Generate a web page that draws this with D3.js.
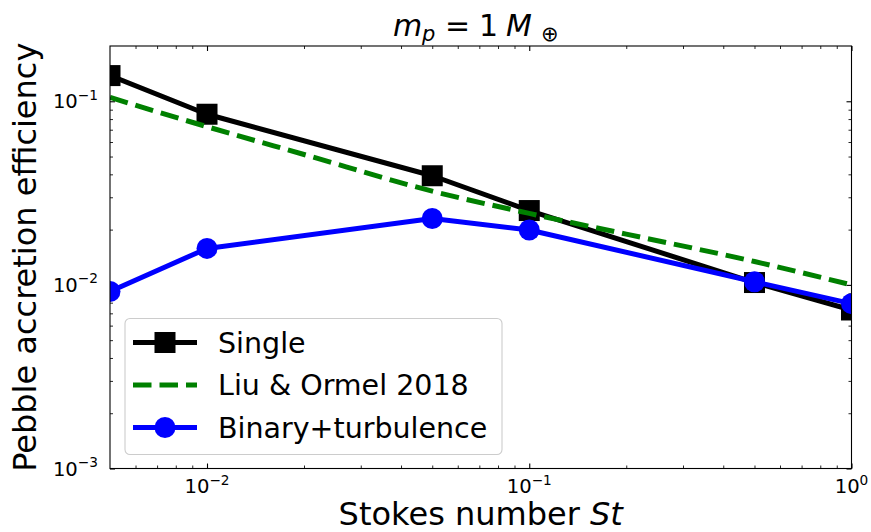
<!DOCTYPE html>
<html>
<head>
<meta charset="utf-8">
<script src="https://cdn.jsdelivr.net/npm/d3@7"></script>
<style>
  body { margin: 0; background: #fff; }
  svg { display: block; }
  text { font-family: "DejaVu Sans", sans-serif; fill: #000; }
</style>
</head>
<body>
<svg id="chart" width="871" height="532"></svg>
<script>
// Stokes numbers sampled by the simulations
const stokes = [0.005, 0.01, 0.05, 0.1, 0.5, 1];
// Pebble accretion efficiency, single planet
const singleEff = [0.138, 0.085, 0.0393, 0.0254, 0.0103, 0.0073];
// Pebble accretion efficiency, binary + turbulence
const binaryEff = [0.0092, 0.0158, 0.0230, 0.0199, 0.0104, 0.0079];
// Liu & Ormel (2018) prescription
const liuStokes = [0.005, 0.01, 0.02, 0.05, 0.1, 0.2, 0.5, 1];
const liuEff = [0.105, 0.0727, 0.0513, 0.0324, 0.0245, 0.0189, 0.0134, 0.0100];
// Labelled decades
const xMajorTicks = [0.01, 0.1, 1];
const yMajorTicks = [0.001, 0.01, 0.1];
const seriesNames = ["Single", "Liu & Ormel 2018", "Binary+turbulence"];

const svg = d3.select("#chart");
const plot = { left: 110, right: 851.5, top: 46, bottom: 468.5 };

const x = d3.scaleLog().domain([0.005, 1]).range([plot.left, plot.right]);
const y = d3.scaleLog().domain([0.001, 0.2]).range([plot.bottom, plot.top]);

const isMajor = v => Math.abs(Math.log10(v) - Math.round(Math.log10(v))) < 1e-9;
const inside = (s, v) => {
  const [a, b] = s.domain();
  return v > a * 1.0001 && v < b * 0.9999;
};
const xMinor = x.ticks().filter(v => !isMajor(v) && inside(x, v));
const yMinor = y.ticks().filter(v => !isMajor(v) && inside(y, v));

// inward ticks on all four sides
function tickAxis(axisFn, scale, values, size, width, transform) {
  const g = svg.append("g")
    .attr("transform", transform)
    .call(axisFn(scale).tickValues(values).tickSize(-size).tickSizeOuter(0).tickFormat(""));
  g.select(".domain").remove();
  g.selectAll(".tick line").attr("stroke", "#000").attr("stroke-width", width);
  return g;
}
const H = plot.bottom - plot.top, W = plot.right - plot.left;
[
  [d3.axisBottom, x, `translate(0,${plot.bottom})`],
  [d3.axisTop, x, `translate(0,${plot.top})`]
].forEach(([fn, s, t]) => {
  tickAxis(fn, s, xMajorTicks, 5, 1.1, t);
  tickAxis(fn, s, xMinor, 3, 0.85, t);
});
[
  [d3.axisLeft, y, `translate(${plot.left},0)`],
  [d3.axisRight, y, `translate(${plot.right},0)`]
].forEach(([fn, s, t]) => {
  tickAxis(fn, s, yMajorTicks, 5, 1.1, t);
  tickAxis(fn, s, yMinor, 3, 0.85, t);
});

// power-of-ten labels
function powerLabel(sel, v) {
  const e = Math.round(Math.log10(v));
  sel.append("tspan").attr("font-size", 19.6).text("10");
  sel.append("tspan").attr("font-size", 13.7).attr("dy", -8.5)
    .text(String(e).replace("-", "\u2212"));
}
svg.append("g").selectAll("text").data(xMajorTicks).join("text")
  .attr("x", d => x(d)).attr("y", plot.bottom + 24.5)
  .attr("text-anchor", "middle")
  .each(function (d) { powerLabel(d3.select(this), d); });
svg.append("g").selectAll("text").data(yMajorTicks).join("text")
  .attr("x", 98).attr("y", d => y(d) + 7)
  .attr("text-anchor", "end")
  .each(function (d) { powerLabel(d3.select(this), d); });

// data layers, clipped to the axes box
svg.append("clipPath").attr("id", "plot-clip")
  .append("rect").attr("x", plot.left).attr("y", plot.top).attr("width", W).attr("height", H);
const layer = svg.append("g").attr("clip-path", "url(#plot-clip)");

const line = d3.line().x(d => x(d[0])).y(d => y(d[1]));
const lineSmooth = d3.line().x(d => x(d[0])).y(d => y(d[1])).curve(d3.curveMonotoneX);

const singlePts = stokes.map((s, i) => [s, singleEff[i]]);
const liuPts = liuStokes.map((s, i) => [s, liuEff[i]]);
const binaryPts = stokes.map((s, i) => [s, binaryEff[i]]);

const MS = 21;
layer.append("path").attr("d", line(singlePts))
  .attr("fill", "none").attr("stroke", "#000").attr("stroke-width", 5).attr("stroke-linejoin", "round");
layer.selectAll("rect.single").data(singlePts).join("rect").attr("class", "single")
  .attr("x", d => x(d[0]) - MS / 2).attr("y", d => y(d[1]) - MS / 2)
  .attr("width", MS).attr("height", MS).attr("fill", "#000");

layer.append("path").attr("d", lineSmooth(liuPts))
  .attr("fill", "none").attr("stroke", "#008000").attr("stroke-width", 5)
  .attr("stroke-dasharray", "18.5,8");

layer.append("path").attr("d", line(binaryPts))
  .attr("fill", "none").attr("stroke", "#0000ff").attr("stroke-width", 5).attr("stroke-linejoin", "round");
layer.selectAll("circle.binary").data(binaryPts).join("circle").attr("class", "binary")
  .attr("cx", d => x(d[0])).attr("cy", d => y(d[1])).attr("r", MS / 2).attr("fill", "#0000ff");

// frame
svg.append("rect").attr("x", plot.left).attr("y", plot.top).attr("width", W).attr("height", H)
  .attr("fill", "none").attr("stroke", "#000").attr("stroke-width", 1.1);

// legend
const lg = svg.append("g").attr("transform", "translate(125,318.5)");
lg.append("rect").attr("width", 377).attr("height", 136).attr("rx", 5)
  .attr("fill", "#fff").attr("fill-opacity", 0.8).attr("stroke", "#cccccc").attr("stroke-width", 1.1);
const rows = [
  { name: seriesNames[0], color: "#000", dash: null, marker: "square" },
  { name: seriesNames[1], color: "#008000", dash: "18.5,8", marker: null },
  { name: seriesNames[2], color: "#0000ff", dash: null, marker: "circle" }
];
rows.forEach((r, i) => {
  const cy = 24 + i * 42.5;
  lg.append("line").attr("x1", 8).attr("x2", 72).attr("y1", cy).attr("y2", cy)
    .attr("stroke", r.color).attr("stroke-width", 5).attr("stroke-dasharray", r.dash);
  if (r.marker === "square") {
    lg.append("rect").attr("x", 40 - MS / 2).attr("y", cy - MS / 2).attr("width", MS).attr("height", MS).attr("fill", r.color);
  } else if (r.marker === "circle") {
    lg.append("circle").attr("cx", 40).attr("cy", cy).attr("r", MS / 2).attr("fill", r.color);
  }
  lg.append("text").attr("x", 93).attr("y", cy + 10).attr("font-size", 28.5).text(r.name);
});

// axis titles
svg.append("text").attr("x", (plot.left + plot.right) / 2).attr("y", 525)
  .attr("text-anchor", "middle").attr("font-size", 32)
  .call(t => {
    t.append("tspan").text("Stokes number ");
    t.append("tspan").attr("font-style", "italic").text("St");
  });
svg.append("text").attr("transform", `translate(36,${(plot.top + plot.bottom) / 2}) rotate(-90)`)
  .attr("text-anchor", "middle").attr("font-size", 32)
  .text("Pebble accretion efficiency");

// title: m_p = 1 M_⊕, laid out piece by piece like typeset math
const title = svg.append("g").attr("font-size", 30);
title.append("text").attr("x", 393).attr("y", 36).attr("font-style", "italic").text("m");
title.append("text").attr("x", 422).attr("y", 41).attr("font-style", "italic").attr("font-size", 21).text("p");
title.append("text").attr("x", 445).attr("y", 36).text("=");
title.append("text").attr("x", 479).attr("y", 36).text("1");
title.append("text").attr("x", 506).attr("y", 36).attr("font-style", "italic").text("M");
title.append("text").attr("x", 541).attr("y", 41).attr("font-size", 21).text("\u2295");
</script>
</body>
</html>
